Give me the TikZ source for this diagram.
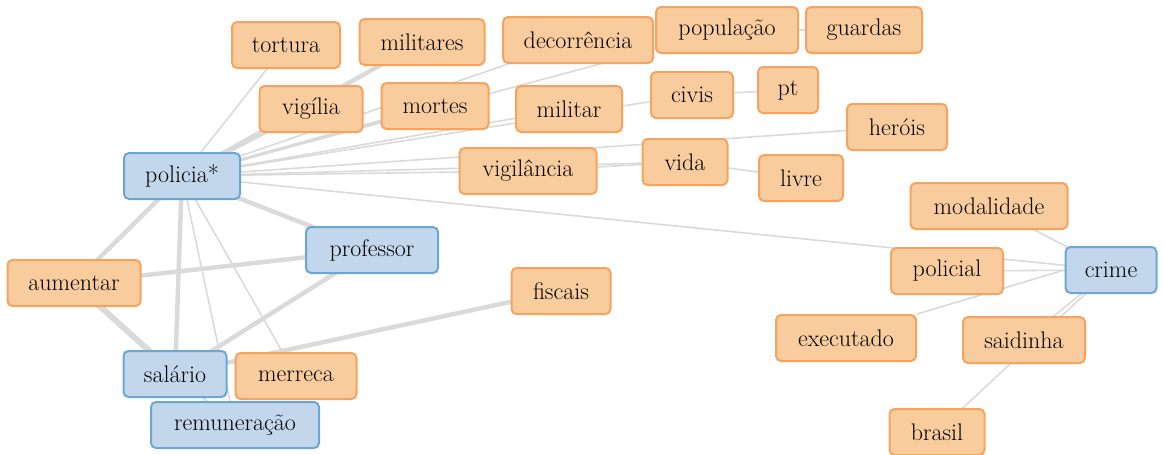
\documentclass[tikz,border=0pt]{standalone}
\usepackage{tikz}
\usetikzlibrary{backgrounds}
\definecolor{orfill}{HTML}{F9CC9E}
\definecolor{ordraw}{HTML}{F5A35E}
\definecolor{blfill}{HTML}{C2D7EB}
\definecolor{bldraw}{HTML}{6BA7D2}
\definecolor{edgegray}{HTML}{DADADA}
\begin{document}
\begin{tikzpicture}[x=1pt,y=-1pt,
    term/.style={draw=ordraw,fill=orfill,rounded corners=5pt,line width=2pt,
      minimum height=46pt,inner sep=0pt,font=\fontsize{24}{28}\selectfont},
    key/.style={term,draw=bldraw,fill=blfill},
    lnk/.style={edgegray,line width=1.6pt},
    mid/.style={edgegray,line width=3pt},
    thick/.style={edgegray,line width=4.5pt}]
  \useasboundingbox (0,0) rectangle (1163,455);
  \node[term,minimum width=108pt] (tortura) at (286,45) {tortura};
  \node[term,minimum width=125pt] (militares) at (422,42) {militares};
  \node[term,minimum width=150pt] (decorrencia) at (578,40) {decorrência};
  \node[term,minimum width=142pt] (populacao) at (727,30) {população};
  \node[term,minimum width=116pt] (guardas) at (864,30) {guardas};
  \node[term,minimum width=103pt] (vigilia) at (311,109) {vigília};
  \node[term,minimum width=107pt] (mortes) at (435,106) {mortes};
  \node[term,minimum width=106pt] (militar) at (569,109) {militar};
  \node[term,minimum width=82pt] (civis) at (692,95) {civis};
  \node[term,minimum width=60pt] (pt) at (788,90) {pt};
  \node[term,minimum width=100pt] (herois) at (897,127) {heróis};
  \node[key,minimum width=116pt] (policia) at (182,176) {policia*};
  \node[term,minimum width=137pt] (vigilancia) at (528,171) {vigilância};
  \node[term,minimum width=85pt] (vida) at (685,162) {vida};
  \node[term,minimum width=84pt] (livre) at (801,178) {livre};
  \node[term,minimum width=157pt] (modalidade) at (989,206) {modalidade};
  \node[key,minimum width=132pt] (professor) at (372,250) {professor};
  \node[term,minimum width=133pt] (aumentar) at (74,283) {aumentar};
  \node[term,minimum width=99pt] (fiscais) at (561,291) {fiscais};
  \node[key,minimum width=91pt] (crime) at (1111,270) {crime};
  \node[term,minimum width=112pt] (policial) at (947,271) {policial};
  \node[term,minimum width=140pt] (executado) at (846,338) {executado};
  \node[term,minimum width=122pt] (saidinha) at (1024,340) {saidinha};
  \node[key,minimum width=103pt] (salario) at (175,374) {salário};
  \node[term,minimum width=121pt] (merreca) at (296,376) {merreca};
  \node[key,minimum width=168pt] (remuneracao) at (235,425) {remuneração};
  \node[term,minimum width=95pt] (brasil) at (937,432) {brasil};
  \begin{scope}[on background layer]
    \foreach \t in {tortura,decorrencia,populacao,militar,civis,herois,vigilancia,vida,crime,merreca,remuneracao}
      \draw[lnk] (policia.center) -- (\t.center);
    \draw[mid] (policia.center) -- (mortes.center);
    \draw[mid] (policia.center) -- (vigilia.center);
    \draw[thick] (policia.center) -- (militares.center);
    \draw[thick] (policia.center) -- (professor.center);
    \draw[thick] (policia.center) -- (aumentar.center);
    \draw[thick] (policia.center) -- (salario.center);
    \draw[lnk] (civis) -- (pt);
    \draw[lnk] (populacao) -- (guardas);
    \draw[lnk] (vigilancia) -- (vida);
    \draw[lnk] (vida) -- (livre);
    \draw[thick] (aumentar.center) -- (professor.center);
    \draw[edgegray,line width=6pt] (aumentar.center) -- (salario.center);
    \draw[thick] (salario.center) -- (professor.center);
    \draw[thick] (salario.center) -- (fiscais.center);
    \draw[lnk] (salario.center) -- (remuneracao.center);
    \foreach \t in {modalidade,policial,saidinha,brasil}
      \draw[lnk] (crime.center) -- (\t.center);
    \draw[lnk] (crime.west) -- (executado.north east);
  \end{scope}
\end{tikzpicture}
\end{document}
